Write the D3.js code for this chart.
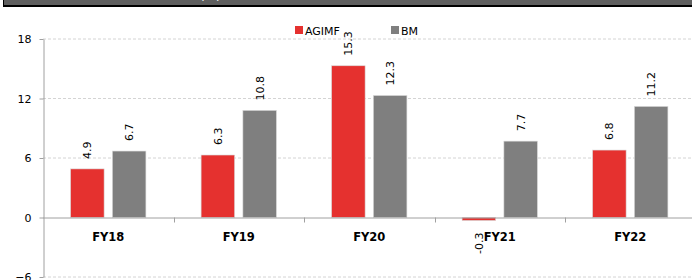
<!DOCTYPE html>
<html><head><meta charset="utf-8">
<script src="https://cdn.jsdelivr.net/npm/d3@7"></script>
<style>body{margin:0;background:#fff}svg{display:block}text{font-family:"DejaVu Sans",Verdana,sans-serif}</style>
</head><body>
<script>
const categories = ["FY18","FY19","FY20","FY21","FY22"];
const seriesNames = ["AGIMF","BM"];
const agimf = [4.9, 6.3, 15.3, -0.3, 6.8];
const bm = [6.7, 10.8, 12.3, 7.7, 11.2];
const yTicks = [-6, 0, 6, 12, 18];
const colors = ["#e5312f", "#7f7f7f"];

const W = 692, H = 280;
const svg = d3.select("body").append("svg").attr("width", W).attr("height", H);

// banner
svg.append("rect").attr("x", 3).attr("y", -2).attr("width", W).attr("height", 9).attr("fill", "#000");
svg.append("rect").attr("x", 4).attr("y", -2).attr("width", W).attr("height", 7).attr("fill", "#5f5f5f");
svg.append("text").attr("x", 200).attr("y", 0).attr("fill", "#fff").attr("font-size", 12).text("(%)");

const x0 = d3.scaleBand().domain(categories).range([43, 695.5]).paddingInner(0).paddingOuter(0);
const y = d3.scaleLinear().domain([-6, 18]).range([277, 39]);

// gridlines
svg.append("g").selectAll("line").data(yTicks.filter(t => t !== 0)).join("line")
  .attr("x1", 43).attr("x2", W).attr("y1", d => y(d)).attr("y2", d => y(d))
  .attr("stroke", "#d4d4d4").attr("stroke-dasharray", "3,2").attr("stroke-width", 1);

// y axis
const yAxis = d3.axisLeft(y).tickValues(yTicks).tickSize(4).tickSizeOuter(0);
const ya = svg.append("g").attr("transform", "translate(43.5,0)").call(yAxis);
ya.select(".domain").attr("stroke", "#a0a0a0");
ya.selectAll(".tick line").attr("stroke", "#a0a0a0");
ya.selectAll(".tick text").attr("font-size", 11).attr("fill", "#000").attr("x", -12)
  .attr("font-family", '"DejaVu Sans",Verdana,sans-serif');

// bars
const inner = ["a","b"];
const bandW = x0.bandwidth();
const barW = 33.5, gap = 8.3;
const x1 = d3.scaleOrdinal().domain(inner).range([(bandW - 2*barW - gap)/2, (bandW - 2*barW - gap)/2 + barW + gap]);
const data = [];
categories.forEach((c, i) => {
  data.push({c, k: "a", v: agimf[i], col: colors[0]});
  data.push({c, k: "b", v: bm[i], col: colors[1]});
});
svg.append("g").selectAll("rect").data(data).join("rect")
  .attr("x", d => x0(d.c) + x1(d.k))
  .attr("width", barW)
  .attr("y", d => y(Math.max(0, d.v)))
  .attr("height", d => Math.abs(y(d.v) - y(0)))
  .attr("fill", d => d.col)
  .attr("stroke", "#d8d8d8").attr("stroke-width", 0.6);

// x axis at zero
const xa = svg.append("g").attr("transform", `translate(0,${y(0)})`);
xa.append("line").attr("x1", 43).attr("x2", W).attr("y1", 0.5).attr("y2", 0.5).attr("stroke", "#a0a0a0");
xa.selectAll("line.t").data(categories.slice(1)).join("line").attr("class", "t")
  .attr("x1", d => Math.round(x0(d)) + 0.5).attr("x2", d => Math.round(x0(d)) + 0.5)
  .attr("y1", 0).attr("y2", 5).attr("stroke", "#a0a0a0");
xa.selectAll("text").data(categories).join("text")
  .attr("x", d => x0(d) + bandW/2).attr("y", 23)
  .attr("text-anchor", "middle").attr("font-size", 11.5).attr("font-weight", "bold").text(d => d);

// data labels
svg.append("g").selectAll("text").data(data).join("text")
  .attr("transform", d => {
    const cx = x0(d.c) + x1(d.k) + barW/2 + 4;
    const cy = d.v >= 0 ? y(d.v) - 10 : y(d.v) + 12;
    return `translate(${cx},${cy}) rotate(-90)`;
  })
  .attr("text-anchor", d => d.v >= 0 ? "start" : "end")
  .attr("font-size", 11).attr("fill", "#000")
  .text(d => d.v.toFixed(1));

// legend
const lg = svg.append("g");
const lx = [295, 391];
seriesNames.forEach((n, i) => {
  lg.append("rect").attr("x", lx[i]).attr("y", 26).attr("width", 8).attr("height", 8).attr("fill", colors[i]);
  lg.append("text").attr("x", lx[i] + 10).attr("y", 34.5).attr("font-size", 11).text(n);
});
</script>
</body></html>
